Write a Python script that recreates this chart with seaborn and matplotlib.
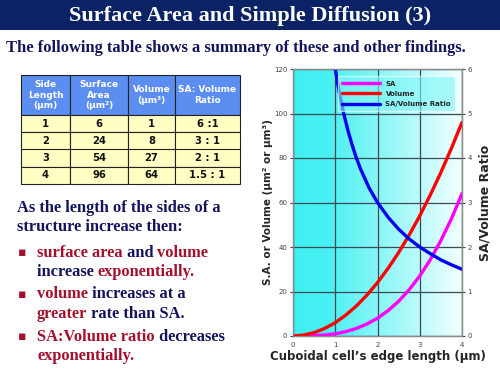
import numpy as np
import pandas as pd
import matplotlib
matplotlib.use("Agg")
import matplotlib.pyplot as plt
from matplotlib.colors import LinearSegmentedColormap
import seaborn as sns

# values
edge = [0, 0.25, 0.5, 0.75, 1, 1.25, 1.5, 1.75, 2, 2.25, 2.5, 2.75, 3, 3.25, 3.5, 3.75, 4]
magenta_sa = [0, 0.02, 0.13, 0.42, 1, 1.95, 3.4, 5.4, 8, 11.4, 15.6, 20.8, 27, 34.3, 42.9, 52.7, 64]
red_volume = [0, 0.4, 1.5, 3.4, 6, 9.4, 13.5, 18.4, 24, 30.4, 37.5, 45.4, 54, 63.4, 73.5, 84.4, 96]
ratio_edge = [1, 1.1, 1.2, 1.3, 1.4, 1.5, 1.6, 1.8, 2, 2.25, 2.5, 2.75, 3, 3.25, 3.5, 3.75, 4]
blue_ratio = [6, 5.45, 5, 4.62, 4.29, 4, 3.75, 3.33, 3, 2.67, 2.4, 2.18, 2, 1.85, 1.71, 1.6, 1.5]

# table
col_heads = ["Side\nLength\n(\u00b5m)", "Surface\nArea\n(\u00b5m\u00b2)", "Volume\n(\u00b5m\u00b3)", "SA: Volume\nRatio"]
side = ["1", "2", "3", "4"]
area = ["6", "24", "54", "96"]
vol = ["1", "8", "27", "64"]
ratio_txt = ["6 :1", "3 : 1", "2 : 1", "1.5 : 1"]

navy = "#14145e"
maroon = "#a3102c"

sns.set_style("white")
plt.rcParams["font.family"] = ["DejaVu Sans"]

fig = plt.figure(figsize=(5, 3.75), dpi=100)
W, H = 500, 375

def fx(px):
    return px / W

def fy(py):
    return 1 - py / H

# title bar
bar = fig.add_axes([0, fy(30), 1, 30 / H])
bar.set_facecolor("#0b2365")
bar.set_xticks([])
bar.set_yticks([])
for s in bar.spines.values():
    s.set_visible(False)
fig.text(0.5, fy(16), "Surface Area and Simple Diffusion (3)", ha="center", va="center",
         color="white", fontsize=16, fontweight="bold", family="Liberation Serif")
fig.text(fx(6), fy(48), "The following table shows a summary of these and other findings.",
         ha="left", va="center", color=navy, fontsize=11.9, fontweight="bold", family="Liberation Serif")

# table
tab_ax = fig.add_axes([fx(21), fy(184), (240 - 21) / W, (184 - 75) / H])
tab_ax.axis("off")
cells = [[side[i], area[i], vol[i], ratio_txt[i]] for i in range(4)]
tbl = tab_ax.table(cellText=cells, colLabels=col_heads, bbox=[0, 0, 1, 1], cellLoc="center")
tbl.auto_set_font_size(False)
widths = [49, 58, 47, 65]
total = sum(widths)
header_h = 40 / 109
row_h = (1 - header_h) / 4
for (r, c), cell in tbl.get_celld().items():
    cell.set_width(widths[c] / total)
    cell.set_edgecolor("#222222")
    cell.set_linewidth(0.8)
    if r == 0:
        cell.set_height(header_h)
        cell.set_facecolor("#5c8ef2")
        cell.get_text().set_color("white")
        cell.get_text().set_fontsize(6.5)
        cell.get_text().set_fontweight("bold")
    else:
        cell.set_height(row_h)
        cell.set_facecolor("#ffffc4")
        cell.get_text().set_color("#111111")
        cell.get_text().set_fontsize(7.2)
        cell.get_text().set_fontweight("bold")

# left text block, coloured pieces chained one after another
def write_line(x, y, parts, size=11.8):
    prev = None
    for txt, col in parts:
        if prev is None:
            prev = fig.text(fx(x), fy(y), txt, ha="left", va="baseline", color=col,
                            fontsize=size, fontweight="bold", family="Liberation Serif")
        else:
            prev = bar.annotate(txt, xy=(1, 0), xycoords=prev, ha="left", va="bottom",
                                color=col, fontsize=size, fontweight="bold",
                                family="Liberation Serif", annotation_clip=False)

write_line(17, 212, [("As the length of the sides of a", navy)])
write_line(17, 231, [("structure increase then:", navy)])
lines = [
    (257, [("surface area", maroon), (" and ", navy), ("volume", maroon)], True),
    (276, [("increase ", navy), ("exponentially.", maroon)], False),
    (298, [("volume", maroon), (" increases at a", navy)], True),
    (318, [("greater", maroon), (" rate than SA.", navy)], False),
    (341, [("SA:Volume ratio", maroon), (" decreases", navy)], True),
    (360, [("exponentially.", maroon)], False),
]
for y, parts, bullet in lines:
    if bullet:
        fig.text(fx(18), fy(y - 4), "\u25aa", ha="left", va="center", color=maroon, fontsize=9)
    write_line(37, y, parts)

# chart
ax = fig.add_axes([fx(293), fy(336), (462 - 293) / W, (336 - 69) / H])
cmap = LinearSegmentedColormap.from_list("bg", [(0.0, "#3ff0f2"), (0.2, "#48f0f2"), (1.0, "#f2ffff")])
grad = np.linspace(0, 1, 256).reshape(1, -1)
ax.imshow(grad, extent=[0, 4, 0, 120], aspect="auto", cmap=cmap, zorder=0)

df = pd.DataFrame({"edge": edge, "SA": magenta_sa, "Volume": red_volume})
sns.lineplot(data=df, x="edge", y="SA", ax=ax, color="#ff00ff", lw=2.4, label="SA", zorder=3)
sns.lineplot(data=df, x="edge", y="Volume", ax=ax, color="#ff0000", lw=2.4, label="Volume", zorder=3)
ax.set_xlim(0, 4)
ax.set_ylim(0, 120)
ax.set_xticks([0, 1, 2, 3, 4])
ax.set_yticks([0, 20, 40, 60, 80, 100, 120])
ax.grid(True, color="#3c4a55", lw=0.9)
ax.set_axisbelow(False)
for s in ax.spines.values():
    s.set_color("#8a8a8a")
    s.set_linewidth(1)
ax.tick_params(labelsize=5, colors="#444444", length=2, pad=2)
ax.set_xlabel("Cuboidal cell\u2019s edge length (\u00b5m)", fontsize=8.5, fontweight="bold", labelpad=2)
ax.set_ylabel("S.A. or Volume (\u00b5m\u00b2 or \u00b5m\u00b3)", fontsize=7.5, fontweight="bold", labelpad=1)
ax.get_legend().remove()

ax2 = ax.twinx()
rdf = pd.DataFrame({"edge": ratio_edge, "ratio": blue_ratio})
sns.lineplot(data=rdf, x="edge", y="ratio", ax=ax2, color="#0000ee", lw=2.4, label="SA/Volume Ratio")
ax2.set_ylim(0, 6)
ax2.set_xlim(0, 4)
ax2.set_yticks([0, 1, 2, 3, 4, 5, 6])
ax2.tick_params(labelsize=5, colors="#444444", length=2, pad=2)
ax2.set_ylabel("SA/Volume Ratio", fontsize=9, fontweight="bold", labelpad=5)
ax2.grid(False)
for s in ax2.spines.values():
    s.set_color("#8a8a8a")
ax2.get_legend().remove()

handles = ax.get_lines()[:2] + ax2.get_lines()[:1]
leg = ax2.legend(handles, ["SA", "Volume", "SA/Volume Ratio"], loc="upper right",
                 bbox_to_anchor=(0.98, 0.985), prop={"size": 5, "weight": "bold"},
                 handlelength=5.5, frameon=True, fancybox=False, borderpad=0.6, labelspacing=0.6)
leg.get_frame().set_facecolor("#7ff6f8")
leg.get_frame().set_alpha(0.6)
leg.get_frame().set_edgecolor("white")

fig.savefig("out.png", dpi=100)
